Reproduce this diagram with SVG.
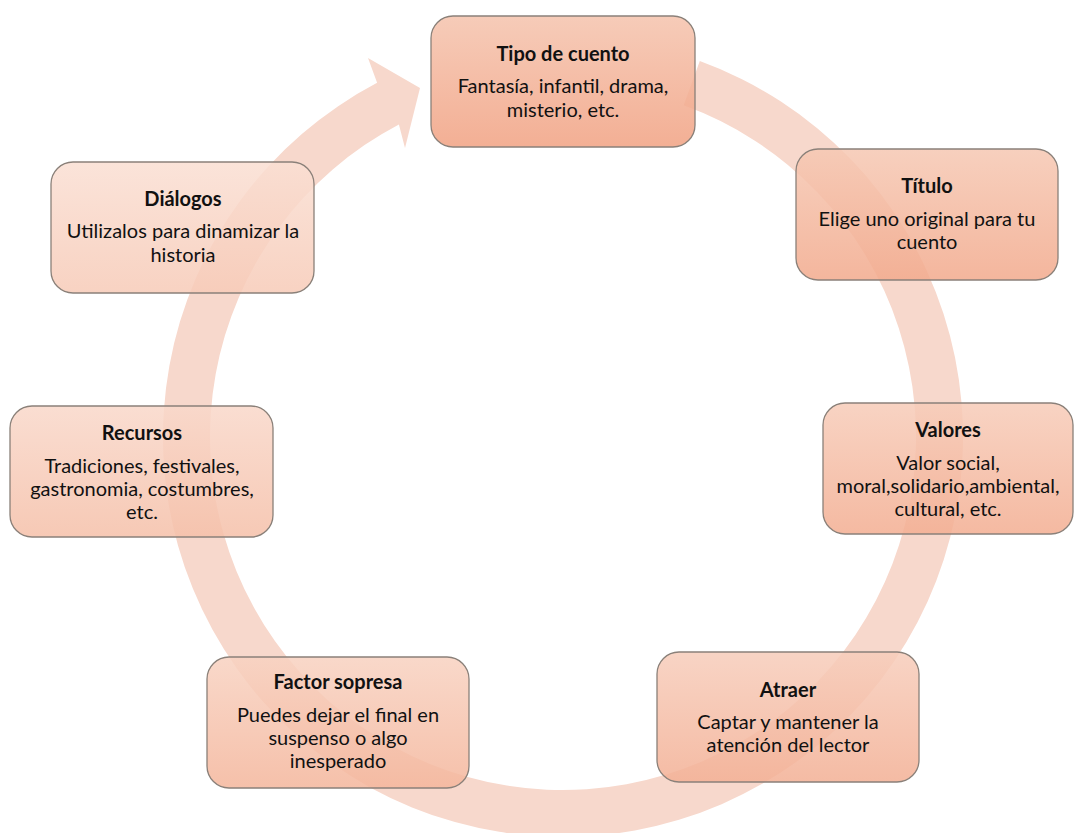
<svg xmlns="http://www.w3.org/2000/svg" width="1074" height="833" viewBox="0 0 1074 833">
<defs>
<style>
.box{stroke:#8a8079;stroke-width:1.3;fill-opacity:0.86}
.t{font-family:Lato,"Liberation Sans",sans-serif;font-size:20px;fill:#111;text-anchor:middle}
.b{font-weight:bold}
</style>
<linearGradient id="g1" x1="0" y1="0" x2="0" y2="1"><stop offset="0" stop-color="#F5C3AD"/><stop offset="1" stop-color="#F1A283"/></linearGradient>
<linearGradient id="g2" x1="0" y1="0" x2="0" y2="1"><stop offset="0" stop-color="#F6C8B3"/><stop offset="1" stop-color="#F2AA8D"/></linearGradient>
<linearGradient id="g3" x1="0" y1="0" x2="0" y2="1"><stop offset="0" stop-color="#F7CCB9"/><stop offset="1" stop-color="#F3AE92"/></linearGradient>
<linearGradient id="g4" x1="0" y1="0" x2="0" y2="1"><stop offset="0" stop-color="#F7CDBB"/><stop offset="1" stop-color="#F3B095"/></linearGradient>
<linearGradient id="g5" x1="0" y1="0" x2="0" y2="1"><stop offset="0" stop-color="#F8D2C1"/><stop offset="1" stop-color="#F4B69C"/></linearGradient>
<linearGradient id="g6" x1="0" y1="0" x2="0" y2="1"><stop offset="0" stop-color="#F9D8CA"/><stop offset="1" stop-color="#F5C0A9"/></linearGradient>
<linearGradient id="g7" x1="0" y1="0" x2="0" y2="1"><stop offset="0" stop-color="#FADFD3"/><stop offset="1" stop-color="#F7CBB8"/></linearGradient>
</defs>
<rect width="1074" height="833" fill="#fff"/>
<g id="connectors">
<path d="M 699.8 61.1 A 400 400 0 1 1 377.1 82.8 L 368 58 L 420 88 L 405 148 L 398.9 124.5 A 353 353 0 1 0 683.7 105.3 Z" fill="#F7D8CC"/>
</g>
<g id="tipo">
<rect class="box" x="431" y="16" width="264" height="131" rx="22" fill="url(#g1)"/>
<text class="t b" x="563" y="61">Tipo de cuento</text>
<text class="t" x="563" y="93">Fantasía, infantil, drama,</text>
<text class="t" x="563" y="117">misterio, etc.</text>
</g>
<g id="titulo">
<rect class="box" x="796" y="149" width="262" height="131" rx="22" fill="url(#g2)"/>
<text class="t b" x="927" y="193">Título</text>
<text class="t" x="927" y="226">Elige uno original para tu</text>
<text class="t" x="927" y="249">cuento</text>
</g>
<g id="valores">
<rect class="box" x="823" y="403" width="250" height="131" rx="22" fill="url(#g3)"/>
<text class="t b" x="948" y="437">Valores</text>
<text class="t" x="948" y="470">Valor social,</text>
<text class="t" x="948" y="493">moral,solidario,ambiental,</text>
<text class="t" x="948" y="516">cultural, etc.</text>
</g>
<g id="atraer">
<rect class="box" x="657" y="652" width="262" height="130" rx="22" fill="url(#g4)"/>
<text class="t b" x="788" y="697">Atraer</text>
<text class="t" x="788" y="729">Captar y mantener la</text>
<text class="t" x="788" y="752">atención del lector</text>
</g>
<g id="factor">
<rect class="box" x="207" y="657" width="262" height="131" rx="22" fill="url(#g5)"/>
<text class="t b" x="338" y="689">Factor sopresa</text>
<text class="t" x="338" y="722">Puedes dejar el final en</text>
<text class="t" x="338" y="745">suspenso o algo</text>
<text class="t" x="338" y="768">inesperado</text>
</g>
<g id="recursos">
<rect class="box" x="10" y="406" width="263" height="131" rx="22" fill="url(#g6)"/>
<text class="t b" x="142" y="440">Recursos</text>
<text class="t" x="142" y="473">Tradiciones, festivales,</text>
<text class="t" x="142" y="496">gastronomia, costumbres,</text>
<text class="t" x="142" y="519">etc.</text>
</g>
<g id="dialogos">
<rect class="box" x="51" y="162" width="263" height="131" rx="22" fill="url(#g7)"/>
<text class="t b" x="183" y="206">Diálogos</text>
<text class="t" x="183" y="238">Utilizalos para dinamizar la</text>
<text class="t" x="183" y="262">historia</text>
</g>
</svg>
